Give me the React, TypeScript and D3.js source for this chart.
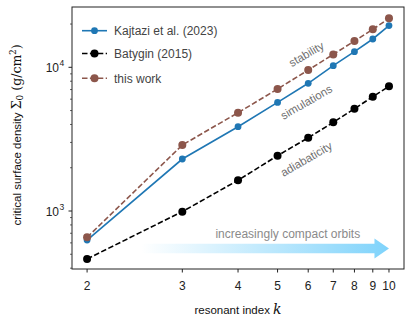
import React from "react";
import * as d3 from "d3";

// resonant index k
const ks = [2, 3, 4, 5, 6, 7, 8, 9, 10];
// critical surface density (g/cm^2)
const kajtazi = [628, 2300, 3860, 5700, 7740, 10260, 12840, 15740, 19500];
const batygin = [464, 990, 1636, 2427, 3236, 4140, 5150, 6240, 7380];
const thisWork = [656, 2880, 4830, 7060, 9570, 12300, 15230, 18370, 21900];

const yMajor = [1000, 10000];
const yMinor = [400, 500, 600, 700, 800, 900, 2000, 3000, 4000, 5000, 6000, 7000, 8000, 9000, 20000];

const notes = [
  { text: "stability", k: 5.95, v: 12180 },
  { text: "simulations", k: 5.95, v: 5644 },
  { text: "adiabaticity", k: 5.95, v: 2265 },
];
const arrowNote = { text: "increasingly compact orbits", k: 5.31, v: 650 };
const arrowSpan = { k0: 2, k1: 10, v: 548 };

const series = [
  { name: "Kajtazi et al. (2023)", values: kajtazi, color: "#1f77b4", dash: null, r: 3.4 },
  { name: "Batygin (2015)", values: batygin, color: "#000000", dash: "5.5,2.4", r: 4 },
  { name: "this work", values: thisWork, color: "#8c564b", dash: "5.5,2.4", r: 4 },
];

const W = 415;
const H = 321;
const left = 72, right = 404, top = 7, bottom = 269;
const SANS = "'Liberation Sans', Arial, sans-serif";
const SERIF = "'DejaVu Serif', serif";

export default function App() {
  // x axis is logarithmic in (k - 1)
  const x = d3.scaleLog().domain([0.896, 10.04]).range([left, right]);
  const xk = (k: number) => x(k - 1);
  const y = d3.scaleLog().domain([Math.pow(10, 2.5964), Math.pow(10, 4.4196)]).range([bottom, top]);

  const line = d3.line<number>().x((_, i) => xk(ks[i])).y((d) => y(d));

  const ax0 = xk(arrowSpan.k0);
  const ax1 = xk(arrowSpan.k1);
  const ay = y(arrowSpan.v);
  const headLen = 14.5, bodyH = 4.7, headH = 10;
  const arrowPath = `M${ax0},${ay - bodyH}L${ax1 - headLen},${ay - bodyH}L${ax1 - headLen},${ay - headH}L${ax1},${ay}L${ax1 - headLen},${ay + headH}L${ax1 - headLen},${ay + bodyH}L${ax0},${ay + bodyH}Z`;

  const legendY = [30.7, 53.5, 78.3];

  return (
    <svg width={W} height={H} style={{ position: "absolute", left: 0, top: 0, background: "#fff" }} fontFamily={SANS}>
      <defs>
        <linearGradient id="arrowGrad" gradientUnits="userSpaceOnUse" x1={ax0} x2={ax1} y1={0} y2={0}>
          <stop offset="0" stopColor="#7fd3fb" stopOpacity={0} />
          <stop offset="0.18" stopColor="#7fd3fb" stopOpacity={0} />
          <stop offset="1" stopColor="#7fd3fb" stopOpacity={1} />
        </linearGradient>
      </defs>

      {/* arrow + label */}
      <path d={arrowPath} fill="url(#arrowGrad)" />
      <text x={xk(arrowNote.k)} y={y(arrowNote.v)} fontSize={12} fill="#8a8a8a" textAnchor="middle">{arrowNote.text}</text>

      {/* series */}
      {series.map((s) => (
        <g key={s.name}>
          <path d={line(s.values) || ""} fill="none" stroke={s.color} strokeWidth={1.6} strokeDasharray={s.dash || undefined} />
          {s.values.map((v, i) => (
            <circle key={i} cx={xk(ks[i])} cy={y(v)} r={s.r} fill={s.color} />
          ))}
        </g>
      ))}

      {/* rotated notes */}
      {notes.map((n) => (
        <text key={n.text} x={xk(n.k)} y={y(n.v)} fontSize={11.5} fill="#707070" textAnchor="middle" dominantBaseline="middle"
          transform={`rotate(-30, ${xk(n.k)}, ${y(n.v)})`}>{n.text}</text>
      ))}

      {/* frame */}
      <rect x={left} y={top} width={right - left} height={bottom - top} fill="none" stroke="#222" strokeWidth={1} />

      {/* x ticks */}
      {ks.map((k) => (
        <g key={k}>
          <line x1={xk(k)} x2={xk(k)} y1={bottom} y2={bottom + 3.5} stroke="#222" />
          <text x={xk(k)} y={289.5} fontSize={12} textAnchor="middle" fill="#222">{k}</text>
        </g>
      ))}

      {/* y ticks */}
      {yMinor.map((v) => (
        <line key={v} x1={left} x2={left - 2} y1={y(v)} y2={y(v)} stroke="#222" strokeWidth={0.7} />
      ))}
      {yMajor.map((v) => (
        <g key={v}>
          <line x1={left} x2={left - 3.5} y1={y(v)} y2={y(v)} stroke="#222" />
          <text x={left - 13} y={y(v) + 5} fontSize={12} textAnchor="end" fill="#222">
            10
          </text>
          <text x={left - 12.5} y={y(v) - 1} fontSize={8.5} textAnchor="start" fill="#222">{Math.round(Math.log10(v))}</text>
        </g>
      ))}

      {/* axis labels */}
      <text x={(left + right) / 2} y={314} fontSize={11.5} textAnchor="middle" fill="#111">
        resonant index <tspan fontFamily={SERIF} fontStyle="italic" fontSize={14}>k</tspan>
      </text>
      <text transform={`translate(21, ${(top + bottom) / 2 - 3}) rotate(-90)`} fontSize={11.5} textAnchor="middle" fill="#111">
        critical surface density{" "}
        <tspan fontFamily={SERIF} fontSize={12.5}>Σ</tspan>
        <tspan fontFamily={SERIF} fontSize={9} dy={2}>0</tspan>
        <tspan fontFamily={SERIF} fontSize={12.5} dy={-2}>{"  (g/cm"}</tspan>
        <tspan fontFamily={SERIF} fontSize={8.5} dy={-5}>2</tspan>
        <tspan fontFamily={SERIF} fontSize={12.5} dy={5}>)</tspan>
      </text>

      {/* legend */}
      {series.map((s, i) => (
        <g key={s.name}>
          <line x1={82} x2={107} y1={legendY[i]} y2={legendY[i]} stroke={s.color} strokeWidth={1.6} strokeDasharray={s.dash || undefined} />
          <circle cx={94.5} cy={legendY[i]} r={s.r} fill={s.color} />
          <text x={114} y={legendY[i] + 4.2} fontSize={12} fill="#444">{s.name}</text>
        </g>
      ))}
    </svg>
  );
}
